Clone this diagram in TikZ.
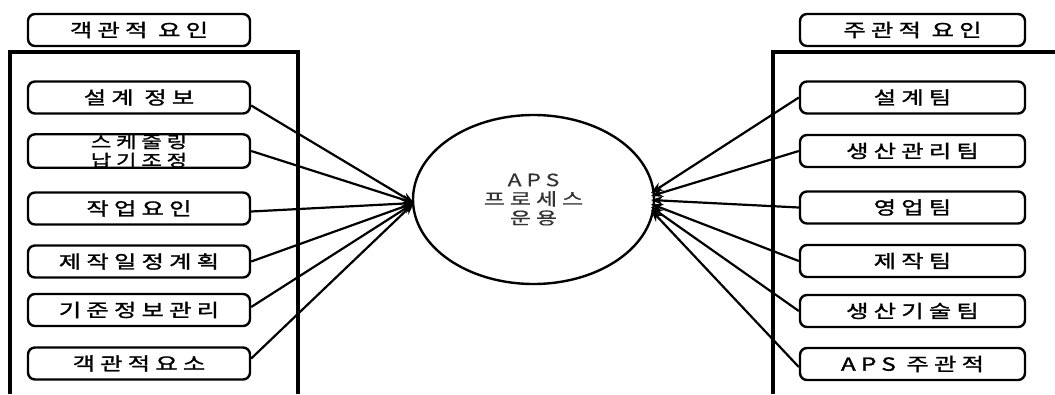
\documentclass[tikz,border=0pt]{standalone}
\usepackage{fontspec}
\newfontfamily\kr[LetterSpace=29,FakeStretch=1.35,FakeBold=1.5]{Noto Sans CJK KR}
\newfontfamily\krl[LetterSpace=29,FakeStretch=1.35,FakeBold=0.6]{Noto Sans CJK KR}
\usetikzlibrary{shapes.geometric,arrows.meta}
\begin{document}
\begin{tikzpicture}[x=1pt,y=-1pt,
  lbl/.style={draw,line width=2.4pt,rounded corners=7pt,minimum width=222pt,minimum height=32pt,inner sep=0pt,
    font=\kr\fontsize{18}{17}\selectfont,align=center},
  rlbl/.style={lbl,minimum width=225pt},
  frame/.style={line width=3.2pt},
  conn/.style={line width=2.2pt,-{Stealth[length=12pt,width=9pt]}}]
\useasboundingbox (0,0) rectangle (1055,394);
% frames
\draw[frame] (10,394) -- (10,52) -- (298,52) -- (298,394);
\draw[frame] (1055,52) -- (773,52) -- (773,394);
% titles
\node[lbl] (lt) at (139,30) {객관적 요인};
\node[rlbl] (rt) at (912.5,30) {주관적 요인};
% left boxes
\node[lbl] (l1) at (139,97.5) {설계 정보};
\node[lbl,font=\kr\fontsize{16.5}{18.5}\selectfont] (l2) at (139,151) {스케줄링\\납기조정};
\node[lbl] (l3) at (139,208.5) {작업요인};
\node[lbl] (l4) at (139,261.5) {제작일정계획};
\node[lbl] (l5) at (139,310) {기준정보관리};
\node[lbl] (l6) at (139,363.5) {객관적요소};
% right boxes
\node[rlbl] (r1) at (912.5,97.5) {설계팀};
\node[rlbl] (r2) at (912.5,151) {생산관리팀};
\node[rlbl] (r3) at (912.5,207.5) {영업팀};
\node[rlbl] (r4) at (912.5,261) {제작팀};
\node[rlbl] (r5) at (912.5,311) {생산기술팀};
\node[rlbl] (r6) at (912.5,364) {APS 주관적};
% center
\node[ellipse,draw,line width=2.4pt,minimum width=241pt,minimum height=169pt,inner sep=0pt,
  align=center,text=black!80,font=\krl\fontsize{17}{19}\selectfont] (c) at (533.5,199.5) {APS\\프로세스\\운용};
% arrow tips
\coordinate (tl) at (414,203);
\coordinate (t1) at (651,193);
\coordinate (t2) at (651,196);
\coordinate (t3) at (651,200);
\coordinate (t4) at (651,204);
\coordinate (t5) at (651,207);
\coordinate (t6) at (651,210);
% connectors
\draw[conn] ([yshift=-8pt]l1.east) -- (tl);
\draw[conn] (l2.east) -- (tl);
\draw[conn] ([yshift=-3pt]l3.east) -- (tl);
\draw[conn] (l4.east) -- (tl);
\draw[conn] ([yshift=3pt]l5.east) -- (tl);
\draw[conn] ([yshift=5pt]l6.east) -- (tl);
\draw[conn] (r1.west) -- (t1);
\draw[conn] (r2.west) -- (t2);
\draw[conn] (r3.west) -- (t3);
\draw[conn] (r4.west) -- (t4);
\draw[conn] (r5.west) -- (t5);
\draw[conn] ([yshift=-3pt]r6.west) -- (t6);
\end{tikzpicture}
\end{document}
